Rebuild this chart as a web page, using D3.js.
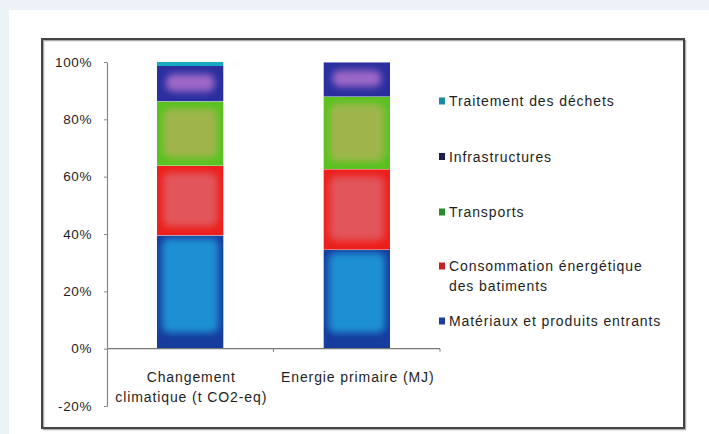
<!DOCTYPE html>
<html><head><meta charset="utf-8">
<script src="https://cdn.jsdelivr.net/npm/d3@7"></script>
<style>
html,body{margin:0;padding:0;background:#edf1f8;}
svg{display:block;}
text{font-family:"Liberation Sans",Arial,sans-serif;fill:#1e1e1e;}
</style></head>
<body>
<svg id="chart" width="709" height="434"></svg>
<script>
// ---- data ----
const categories = ["Changement climatique (t CO2-eq)", "Energie primaire (MJ)"];
const categoryLines = [["Changement", "climatique (t CO2-eq)"], ["Energie primaire (MJ)"]];
const seriesNames = ["Matériaux et produits entrants", "Consommation énergétique des batiments", "Transports", "Infrastructures", "Traitement des déchets"];
const materiaux = [39.5, 34.5];
const consommation = [24.3, 28.1];
const transports = [22.4, 25.3];
const infrastructures = [12.4, 12.0];
const traitement = [1.4, 0.1];
const yTicks = [-20, 0, 20, 40, 60, 80, 100];
const legendOrder = ["Traitement des déchets", "Infrastructures", "Transports", "Consommation énergétique des batiments", "Matériaux et produits entrants"];
const legendLines = {
  "Traitement des déchets": ["Traitement des déchets"],
  "Infrastructures": ["Infrastructures"],
  "Transports": ["Transports"],
  "Consommation énergétique des batiments": ["Consommation énergétique", "des batiments"],
  "Matériaux et produits entrants": ["Matériaux et produits entrants"]
};

const seriesValues = [materiaux, consommation, transports, infrastructures, traitement];
const table = categories.map((c, i) => {
  const row = {category: c};
  seriesNames.forEach((s, j) => row[s] = seriesValues[j][i]);
  return row;
});

// styles
const styles = {
  "Matériaux et produits entrants": {edge: "#163c9e", center: "#1f90d2", legend: "#1a3f9e", side: 5, top: 3, bottom: 16},
  "Consommation énergétique des batiments": {edge: "#ec1f1c", center: "#e2545a", legend: "#c42222", side: 6, top: 7, bottom: 9},
  "Transports": {edge: "#58c220", center: "#9fb54c", legend: "#2a8c30", side: 6, top: 7, bottom: 8},
  "Infrastructures": {edge: "#2a2e9e", center: "#9c68c8", legend: "#1e1c55", side: 9, top: 8, bottom: 10},
  "Traitement des déchets": {edge: "#1aa8c0", center: "#2cc0cc", legend: "#1a8aa2", side: 5, top: 5, bottom: 5}
};

const svg = d3.select("#chart");
// white panel
svg.append("rect").attr("x", 9).attr("y", 10).attr("width", 700).attr("height", 424).attr("fill", "#fff");
// border with shadow
svg.append("rect").attr("x", 43.5).attr("y", 40.5).attr("width", 642).attr("height", 389)
  .attr("fill", "none").attr("stroke", "#aaa").attr("stroke-width", 1.5);
svg.append("rect").attr("x", 42).attr("y", 39).attr("width", 642).attr("height", 389)
  .attr("fill", "none").attr("stroke", "#444").attr("stroke-width", 2);

const y = d3.scaleLinear().domain([-20, 100]).range([406, 62]);
const x = d3.scaleBand().domain(categories).range([107, 440]).paddingInner(0.6).paddingOuter(0.3);

const defs = svg.append("defs");
defs.append("filter").attr("id", "glow").attr("x", "-50%").attr("y", "-50%").attr("width", "200%").attr("height", "200%")
  .append("feGaussianBlur").attr("stdDeviation", 3.5);

const stack = d3.stack().keys(seriesNames);
const stacked = stack(table);

const gBars = svg.append("g");
let clipId = 0;
stacked.forEach(layer => {
  const st = styles[layer.key];
  layer.forEach((d, i) => {
    const x0 = x(d.data.category), w = x.bandwidth();
    const yTop = y(d[1]), yBot = y(d[0]);
    const h = yBot - yTop;
    if (h <= 0.3) return;
    const id = "clip" + (clipId++);
    defs.append("clipPath").attr("id", id).append("rect")
      .attr("x", x0).attr("y", yTop).attr("width", w).attr("height", h);
    const g = gBars.append("g").attr("clip-path", `url(#${id})`);
    g.append("rect").attr("x", x0).attr("y", yTop).attr("width", w).attr("height", h).attr("fill", st.edge);
    if (h > 12) {
      g.append("rect").attr("x", x0 + st.side).attr("y", yTop + st.top)
        .attr("width", w - 2 * st.side).attr("height", Math.max(0, h - st.top - st.bottom))
        .attr("rx", 7).attr("fill", st.center).attr("filter", "url(#glow)");
    }
  });
});

// x axis line at 0
const xr = x.range();
const mid = x(categories[1]) - x.step() * x.paddingInner() / 2;
const gx = svg.append("g");
gx.append("line").attr("x1", xr[0]).attr("x2", xr[1]).attr("y1", y(0)).attr("y2", y(0)).attr("stroke", "#777").attr("stroke-width", 1.2);
[mid, xr[1]].forEach(t => gx.append("line").attr("x1", t).attr("x2", t).attr("y1", y(0)).attr("y2", y(0) + 3).attr("stroke", "#777"));

// y axis
const yAxis = d3.axisLeft(y).tickValues(yTicks).tickSize(3).tickSizeOuter(0).tickPadding(12).tickFormat(d => d + "%");
const gy = svg.append("g").attr("transform", "translate(107,0)").call(yAxis);
gy.select(".domain").attr("stroke", "#888").attr("stroke-width", 1.2);
gy.selectAll(".tick line").attr("stroke", "#888");
gy.selectAll(".tick text").attr("font-size", 13.5).attr("letter-spacing", "0.6px").style("font-family", "Liberation Sans, Arial, sans-serif").attr("fill", "#1e1e1e");

// category labels
categories.forEach((c, i) => {
  const cx = x(c) + x.bandwidth() / 2 + 1;
  categoryLines[i].forEach((line, k) => {
    svg.append("text").attr("x", cx).attr("y", 382 + k * 20).attr("text-anchor", "middle")
      .attr("font-size", 14).attr("letter-spacing", "0.9px").text(line);
  });
});

// legend
const legendY = {"Traitement des déchets": 101, "Infrastructures": 156.5, "Transports": 212, "Consommation énergétique des batiments": 266, "Matériaux et produits entrants": 321};
legendOrder.forEach(name => {
  const cy = legendY[name];
  svg.append("rect").attr("x", 439).attr("y", cy - 3.5).attr("width", 6).attr("height", 7).attr("fill", styles[name].legend);
  legendLines[name].forEach((line, k) => {
    svg.append("text").attr("x", 449).attr("y", cy + 5 + k * 19.5).attr("font-size", 14).attr("letter-spacing", "0.9px").text(line);
  });
});
</script>
</body></html>
